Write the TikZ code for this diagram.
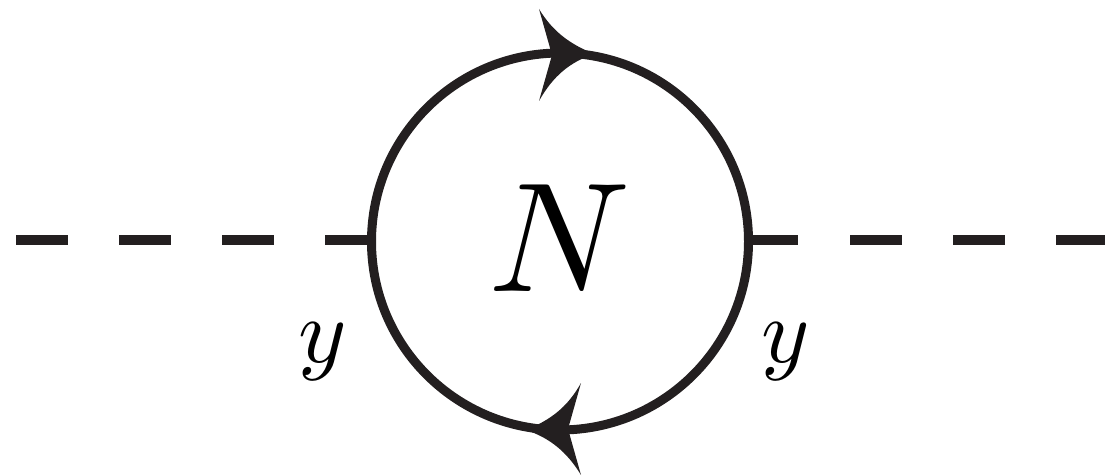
\documentclass[tikz,border=0pt]{standalone}
\usetikzlibrary{arrows.meta,decorations.markings}
\definecolor{inkline}{RGB}{35,31,32}
\begin{document}
\begin{tikzpicture}[x=1pt,y=-1pt,
  scalar/.style={line width=9.5pt,inkline,dash pattern=on 52pt off 51pt},
  fermion/.style={line width=9pt,inkline},
  headtip/.style={fill=inkline,draw=none},
  lab/.style={inner sep=0pt,text=black}]
\useasboundingbox (0,0) rectangle (1105,476);
\coordinate (west) at (371,240);
\coordinate (east) at (749,240);
\coordinate (farwest) at (16,240);
\coordinate (fareast) at (1105,240);
\coordinate (kneewest) at (327,240);
\coordinate (kneeeast) at (798,240);
\draw[fermion] (560,241.5) circle (188.5);
\draw[scalar,dash pattern=] (kneewest) -- (west);
\draw[scalar,dash pattern=] (east) -- (kneeeast);
\draw[scalar] (farwest) -- (kneewest);
\draw[scalar] (850,240) -- (fareast);
\node[lab] (mass) at (560,238) {\scalebox{15.6}{$N$}};
\node[lab] (yleft) at (323,352) {\scalebox{9.2}{$y$}};
\node[lab] (yright) at (786,352) {\scalebox{9.2}{$y$}};
\fill[headtip] (539,9) .. controls (553,32) and (570,44) .. (594,54) .. controls (570,62) and (553,76) .. (539,101) -- (552,55) -- cycle;
\fill[headtip] (581,383) .. controls (567,408) and (550,420) .. (526,430) .. controls (550,438) and (567,452) .. (581,475) -- (568,429) -- cycle;
\end{tikzpicture}
\end{document}
